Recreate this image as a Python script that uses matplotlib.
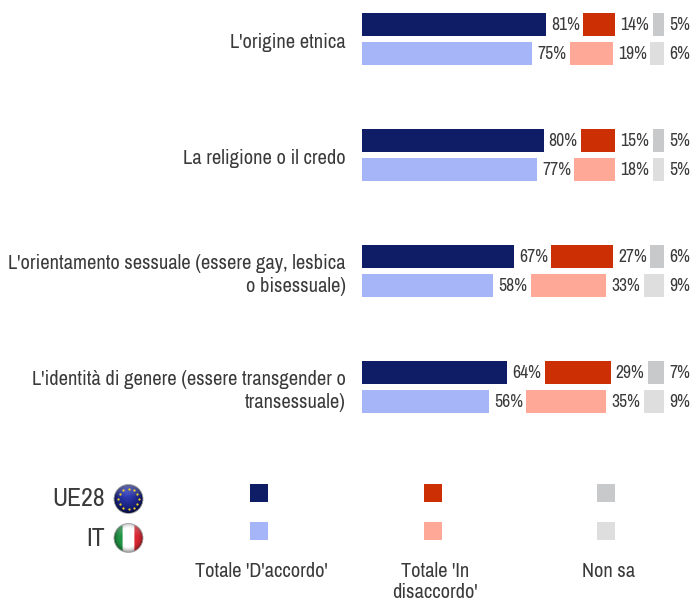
import numpy as np
import matplotlib
matplotlib.use("Agg")
import matplotlib.pyplot as plt
from matplotlib.patches import Circle, Rectangle
from matplotlib import font_manager as fm

names = {f.name for f in fm.fontManager.ttflist}
NARROW = 'Archivo Narrow' in names
plt.rcParams['font.family'] = ['Archivo Narrow', 'Liberation Sans', 'DejaVu Sans'] if NARROW else ['Liberation Sans', 'DejaVu Sans']
FS = 1.0 if NARROW else 0.85

categories = ["L'origine etnica", "La religione o il credo",
              "L'orientamento sessuale (essere gay, lesbica\no bisessuale)",
              "L'identità di genere (essere transgender o\ntransessuale)"]
ue_agree = [81, 80, 67, 64]
ue_disagree = [14, 15, 27, 29]
ue_dk = [5, 5, 6, 7]
it_agree = [75, 77, 58, 56]
it_disagree = [19, 18, 33, 35]
it_dk = [6, 5, 9, 9]
legend_labels = ["Totale 'D'accordo'", "Totale 'In\ndisaccordo'", "Non sa"]
group_labels = ["UE28", "IT"]

C_UE = ['#0f1c66', '#cc2f04', '#c8c9cb']
C_IT = ['#a6b4f8', '#fea997', '#dedede']
TXT = '#3a3a3a'
SPACER = 16.5

W, H = 693, 603
fig = plt.figure(figsize=(W/100, H/100), dpi=100, facecolor='white')

ov = fig.add_axes([0, 0, 1, 1])
ov.set_xlim(0, W); ov.set_ylim(H, 0); ov.axis('off')

X0 = 361.5; PX = 2.275
ax = fig.add_axes([X0/W, 0, (W-X0)/W, 1])
ax.set_xlim(0, (W-X0)/PX)
ax.set_ylim((H-39.0)/116, -39.0/116)
ax.axis('off')
ax.patch.set_alpha(0)

OFF = 0.128; BH = 0.197
for row in range(len(categories)):
    for vals, cols, y in (((ue_agree, ue_disagree, ue_dk), C_UE, row-OFF),
                          ((it_agree, it_disagree, it_dk), C_IT, row+OFF)):
        left = 0
        for v, c in zip((vals[0][row], vals[1][row], vals[2][row]), cols):
            ax.barh(y, v, left=left, height=BH, color=c, edgecolor='none')
            ax.text(left+v+2.3, y+0.004, f"{v}%", va='center', ha='left', fontsize=12.6*FS, color=TXT)
            left += v + SPACER
    ax.text(-7.0, row+0.034, categories[row], ha='right', va='center', fontsize=14.7*FS,
            color=TXT, linespacing=1.27, clip_on=False)

sw_x = [259, 433, 606]
for x, cu, ci in zip(sw_x, C_UE, C_IT):
    ov.add_patch(Rectangle((x-9, 484), 18, 18, color=cu, lw=0))
    ov.add_patch(Rectangle((x-9, 522), 18, 18, color=ci, lw=0))
for x, lab in zip([261.5, 435, 608.5], legend_labels):
    ov.text(x, 562, lab, ha='center', va='top', fontsize=14.7*FS, color=TXT, linespacing=1.12)

ov.text(104.5, 499, group_labels[0], ha='right', va='center', fontsize=18.5*FS, color=TXT)
ov.text(104.5, 538, group_labels[1], ha='right', va='center', fontsize=18.5*FS, color=TXT)

R = 14.5
def flag(cx, cy, rgb_fn):
    n = 64
    xs = np.linspace(-1, 1, n)
    xx, yy = np.meshgrid(xs, xs)
    img = rgb_fn(xx, yy)
    r = np.sqrt(xx**2+yy**2)
    shade = np.clip(1.08-0.45*r**4, 0, 1)[..., None]
    img = np.clip(img*shade, 0, 1)
    gloss = np.clip(0.35*(-yy-0.1), 0, 0.3)[..., None]
    img = img*(1-gloss) + gloss
    im = ov.imshow(img, extent=(cx-R, cx+R, cy+R, cy-R), zorder=3, interpolation='bilinear', aspect='auto')
    im.set_clip_path(Circle((cx, cy), R, transform=ov.transData))
    ov.add_patch(Circle((cx, cy), R, fill=False, ec='#a0a0a0', lw=0.6, zorder=4))

def eu(xx, yy):
    r = np.sqrt((xx+0.1)**2+(yy+0.3)**2)
    t = np.clip(r/1.3, 0, 1)[..., None]
    return (1-t)*np.array([0.2, 0.25, 0.75]) + t*np.array([0.05, 0.08, 0.38])

def it(xx, yy):
    img = np.ones(xx.shape+(3,))
    img[xx < -0.42] = (0.13, 0.58, 0.27)
    img[xx > 0.42] = (0.85, 0.15, 0.2)
    return img

flag(128.5, 499, eu)
flag(128.5, 538, it)
ang = np.deg2rad(np.arange(0, 360, 30))
ov.scatter(128.5+10.2*np.cos(ang), 499+10.2*np.sin(ang), marker='o', s=2.6,
           color='#f2d21e', lw=0, zorder=5)
ov.set_xlim(0, W); ov.set_ylim(H, 0)

fig.savefig('out.png', dpi=100, facecolor='white')
